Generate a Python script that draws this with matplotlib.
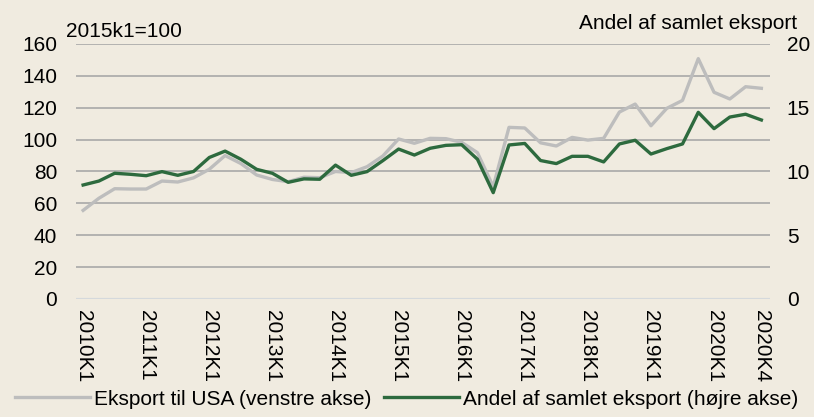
import matplotlib
matplotlib.use("Agg")
import matplotlib.pyplot as plt
import numpy as np

# quarterly data 2010K1 - 2020K4
years = list(range(2010, 2021))
quarters = ["%dK%d" % (y, q) for y in years for q in range(1, 5)]

# Eksport til USA, index 2015k1=100 (left axis)
eksport_usa = [55.6, 63.2, 69.2, 69.0, 69.0, 74.0, 73.4, 76.0, 81.4, 90.0,
               85.0, 77.8, 75.0, 73.6, 76.4, 76.1, 80.0, 79.3, 83.0, 89.7,
               100.4, 97.7, 100.8, 100.6, 98.3, 91.8, 70.5, 107.7, 107.3, 98.0,
               96.0, 101.4, 99.7, 100.8, 117.3, 122.3, 108.7, 119.6, 124.6, 150.8,
               129.7, 125.5, 133.2, 132.2]

# Andel af samlet eksport, pct. (right axis)
andel = [8.94, 9.25, 9.86, 9.78, 9.67, 9.99, 9.70, 10.0, 11.1, 11.6,
         10.96, 10.17, 9.86, 9.15, 9.42, 9.39, 10.5, 9.70, 9.99, 10.85,
         11.76, 11.29, 11.82, 12.05, 12.1, 10.96, 8.34, 12.08, 12.2, 10.86,
         10.62, 11.19, 11.19, 10.75, 12.16, 12.45, 11.37, 11.79, 12.16, 14.64,
         13.36, 14.27, 14.49, 14.04]

tick_labels = ["%dK1" % y for y in years] + ["2020K4"]
tick_pos = [4 * i for i in range(len(years))] + [43]

bg = "#F0EBE0"
grey = "#BDBDBD"
green = "#2D6A3E"
fs = 15

plt.rcParams["font.family"] = ["Liberation Sans", "DejaVu Sans"]

fig = plt.figure(figsize=(8.14, 4.17), dpi=100, facecolor=bg)
ax = fig.add_axes([0.0934, 0.283, 0.8526, 0.6115])
ax.set_facecolor(bg)
ax2 = ax.twinx()

x = np.arange(len(quarters))
ax.plot(x, eksport_usa, color=grey, lw=2.4, label="Eksport til USA (venstre akse)", zorder=3)
ax2.plot(x, andel, color=green, lw=2.4, label="Andel af samlet eksport (højre akse)", zorder=3)

ax.set_ylim(0, 160)
ax.set_yticks(np.arange(0, 161, 20))
ax2.set_ylim(0, 20)
ax2.set_yticks([0, 5, 10, 15, 20])
ax.set_xlim(-0.45, 43.55)

for yv in range(20, 161, 20):
    ax.axhline(yv, color="#A8A8A8", lw=1.2, zorder=1)
ax.axhline(0, color="#D5D9DC", lw=1.6, zorder=1)

ax.set_xticks(tick_pos)
ax.set_xticklabels(tick_labels, rotation=270, fontsize=fs)
ax.tick_params(axis="x", length=0, pad=8)
ax.tick_params(axis="y", length=0, labelsize=fs, pad=13.5)
ax2.tick_params(axis="y", length=0, labelsize=fs, pad=12)
for a in (ax, ax2):
    for s in a.spines.values():
        s.set_visible(False)

fig.text(0.081, 0.911, "2015k1=100", fontsize=fs, ha="left", va="baseline")
fig.text(0.979, 0.930, "Andel af samlet eksport", fontsize=fs, ha="right", va="baseline")

h1, l1 = ax.get_legend_handles_labels()
h2, l2 = ax2.get_legend_handles_labels()
leg = fig.legend(h1 + h2, l1 + l2, loc="lower center", bbox_to_anchor=(0.5, -0.025),
                 ncol=2, frameon=False, handlelength=3.6, handletextpad=0.2,
                 columnspacing=0.6, prop={"size": fs})

fig.savefig("out.png", dpi=100, facecolor=bg)
